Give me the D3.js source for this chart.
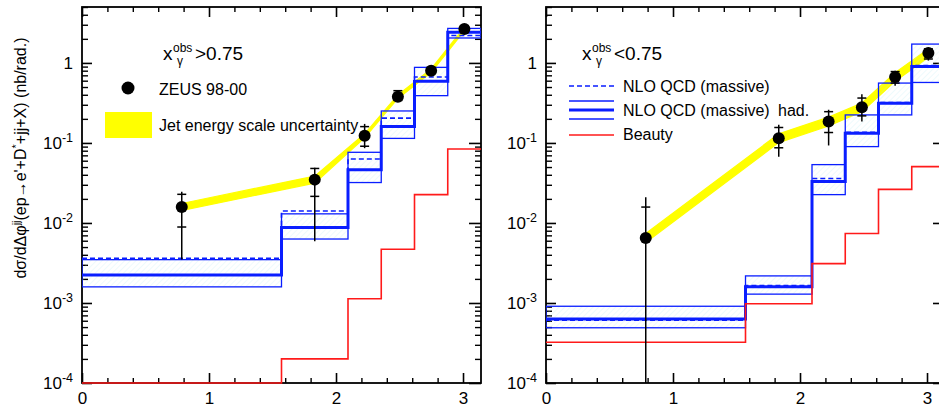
<!DOCTYPE html>
<html>
<head>
<meta charset="utf-8">
<script src="https://cdn.jsdelivr.net/npm/d3@7"></script>
<style>
  html, body { margin: 0; padding: 0; background: #fff; }
  svg { display: block; font-family: "Liberation Sans", Arial, Helvetica, sans-serif; }
</style>
</head>
<body>
<svg id="chart" width="939" height="413"></svg>
<script>
// Bin edges in Δφ^jj (rad)
const binEdges = [0, Math.PI / 2, 2 * Math.PI / 3, 3 * Math.PI / 4, 5 * Math.PI / 6, 11 * Math.PI / 12, Math.PI];

// x_γ^obs > 0.75 : ZEUS 98-00 data
const hiData   = [0.0158, 0.0348, 0.123, 0.379, 0.80, 2.66];
const hiStatUp = [0.0228, 0.048, 0.160, 0.45, 0.86, 2.9];
const hiStatDn = [0.0089, 0.0215, 0.091, 0.34, 0.75, 2.45];
const hiTotUp  = [0.0245, 0.049, 0.173, 0.46, 0.88, 2.95];
const hiTotDn  = [0.0035, 0.0059, 0.086, 0.33, 0.73, 2.4];
const hiJesUp  = [0.0175, 0.0385, 0.130, 0.398, 0.84, 2.79];
const hiJesDn  = [0.0143, 0.0315, 0.116, 0.360, 0.76, 2.53];
// x_γ^obs > 0.75 : NLO QCD predictions and beauty contribution
const hiNlo      = [0.00363, 0.0141, 0.063, 0.204, 0.668, 2.2];
const hiNloHad   = [0.00224, 0.0088, 0.0464, 0.160, 0.59, 2.42];
const hiNloHadUp = [0.00348, 0.0130, 0.0764, 0.251, 0.88, 2.7];
const hiNloHadDn = [0.00159, 0.0063, 0.032, 0.114, 0.39, 2.05];
const hiBeauty   = [0.0001, 0.0002, 0.00113, 0.0047, 0.0226, 0.084];

// x_γ^obs < 0.75 : ZEUS 98-00 data
const loData   = [0.0065, 0.1145, 0.185, 0.279, 0.668, 1.33];
const loStatUp = [0.0158, 0.156, 0.246, 0.364, 0.78, 1.5];
const loStatDn = [0.00005, 0.087, 0.135, 0.218, 0.56, 1.12];
const loTotUp  = [0.021, 0.169, 0.26, 0.407, 0.80, 1.56];
const loTotDn  = [0.00005, 0.067, 0.093, 0.185, 0.52, 1.07];
const loJesUp  = [0.0074, 0.130, 0.210, 0.316, 0.756, 1.5];
const loJesDn  = [0.0057, 0.101, 0.163, 0.246, 0.59, 1.17];
// x_γ^obs < 0.75 : NLO QCD predictions and beauty contribution
const loNlo      = [0.00061, 0.00165, 0.036, 0.136, 0.32, 0.93];
const loNloHad   = [0.00063, 0.00159, 0.033, 0.132, 0.314, 0.90];
const loNloHadUp = [0.00091, 0.00218, 0.0536, 0.224, 0.56, 1.72];
const loNloHadDn = [0.00049, 0.00129, 0.0226, 0.090, 0.224, 0.57];
const loBeauty   = [0.000323, 0.00098, 0.0031, 0.0074, 0.0263, 0.0506];

// Axis ticks
const xMajorTicks = [0, 1, 2, 3];
const xMinorTicks = d3.range(0, 3.15, 0.2).filter(v => Math.abs(v - Math.round(v)) > 1e-6);
const yMajorTicks = [1e-4, 1e-3, 1e-2, 1e-1, 1];
const yTickLabels = ["10|-4", "10|-3", "10|-2", "10|-1", "1"];
const yMinorTicks = [];
[1e-4, 1e-3, 1e-2, 1e-1, 1].forEach(d => { for (let m = 2; m <= 9; m++) if (d * m <= 5) yMinorTicks.push(d * m); });

const BLUE = "#0a1eff";
const RED = "#ff1a1a";
const YELLOW = "#ffff00";

const svg = d3.select("#chart");
const defs = svg.append("defs");
defs.append("pattern")
  .attr("id", "hatch").attr("patternUnits", "userSpaceOnUse")
  .attr("width", 4).attr("height", 4).attr("patternTransform", "rotate(45)")
  .append("line").attr("x1", 0).attr("y1", 0).attr("x2", 0).attr("y2", 4)
  .attr("stroke", "#b4ecf2").attr("stroke-width", 1).attr("stroke-opacity", 0.45);

const plotTop = 7, plotBottom = 383;
const y = d3.scaleLog().domain([1e-4, 5]).range([plotBottom, plotTop]).clamp(true);

const panels = [
  { id: "hi", x0: 82, x1: 481, data: hiData, statUp: hiStatUp, statDn: hiStatDn, totUp: hiTotUp, totDn: hiTotDn,
    jesUp: hiJesUp, jesDn: hiJesDn, nlo: hiNlo, had: hiNloHad, hadUp: hiNloHadUp, hadDn: hiNloHadDn, beauty: hiBeauty },
  { id: "lo", x0: 546, x1: 546 + 399, data: loData, statUp: loStatUp, statDn: loStatDn, totUp: loTotUp, totDn: loTotDn,
    jesUp: loJesUp, jesDn: loJesDn, nlo: loNlo, had: loNloHad, hadUp: loNloHadUp, hadDn: loNloHadDn, beauty: loBeauty }
];

function stepPoints(vals) {
  const pts = vals.map((v, i) => [binEdges[i], v]);
  pts.push([binEdges[binEdges.length - 1], vals[vals.length - 1]]);
  return pts;
}

panels.forEach(p => {
  const x = d3.scaleLinear().domain([0, Math.PI]).range([p.x0, p.x1]);
  const g = svg.append("g");

  defs.append("clipPath").attr("id", "clip-" + p.id)
    .append("rect").attr("x", p.x0).attr("y", plotTop - 1).attr("width", p.x1 - p.x0).attr("height", plotBottom - plotTop + 2);

  // frame
  g.append("rect").attr("x", p.x0).attr("y", plotTop).attr("width", p.x1 - p.x0).attr("height", plotBottom - plotTop)
    .attr("fill", "none").attr("stroke", "#000").attr("stroke-width", 1.8);

  // axes with inward ticks
  const axes = [
    { mk: d3.axisBottom, tr: `translate(0,${plotBottom})`, size: -10, minorSize: -5, minor: xMinorTicks, major: xMajorTicks, labels: true, dir: "x" },
    { mk: d3.axisTop, tr: `translate(0,${plotTop})`, size: -10, minorSize: -5, minor: xMinorTicks, major: xMajorTicks, labels: false, dir: "x" },
    { mk: d3.axisLeft, tr: `translate(${p.x0},0)`, size: -10, minorSize: -6, minor: yMinorTicks, major: yMajorTicks, labels: true, dir: "y" },
    { mk: d3.axisRight, tr: `translate(${p.x1},0)`, size: -12, minorSize: -6, minor: yMinorTicks, major: yMajorTicks, labels: false, dir: "y" }
  ];
  axes.forEach(a => {
    const sc = a.dir === "x" ? x : y;
    const gm = g.append("g").attr("transform", a.tr)
      .call(a.mk(sc).tickValues(a.major).tickSizeInner(a.size).tickSizeOuter(0).tickPadding(9)
        .tickFormat(a.labels ? (a.dir === "x" ? d3.format("d") : ((d, i) => yTickLabels[i])) : () => ""));
    gm.select(".domain").remove();
    gm.selectAll(".tick line").attr("stroke", "#000").attr("stroke-width", 1.6);
    gm.selectAll(".tick text").attr("font-size", 17).attr("fill", "#000")
      .attr("font-family", '"Liberation Sans", Arial, Helvetica, sans-serif');
    if (a.labels && a.dir === "y") {
      gm.selectAll(".tick text").each(function (d, i) {
        const t = d3.select(this);
        const parts = yTickLabels[i].split("|");
        t.text(null);
        t.append("tspan").text(parts[0]);
        if (parts[1]) t.append("tspan").attr("dy", -7).attr("font-size", 12.5).text(parts[1]);
      });
    }
    const gmin = g.append("g").attr("transform", a.tr)
      .call(a.mk(sc).tickValues(a.minor).tickSizeInner(a.minorSize).tickSizeOuter(0).tickFormat(() => ""));
    gmin.select(".domain").remove();
    gmin.selectAll(".tick line").attr("stroke", "#000").attr("stroke-width", 1.4);
  });

  const c = g.append("g").attr("clip-path", `url(#clip-${p.id})`);

  // jet energy scale uncertainty band
  const cx = binEdges.slice(0, -1).map((e, i) => (e + binEdges[i + 1]) / 2);
  c.append("path")
    .datum(cx.map((v, i) => ({ x: v, lo: p.jesDn[i], hi: p.jesUp[i] })))
    .attr("d", d3.area().x(d => x(d.x)).y0(d => y(d.lo)).y1(d => y(d.hi)))
    .attr("fill", YELLOW).attr("stroke", YELLOW).attr("stroke-width", 1.2);

  // NLO hadronised uncertainty boxes
  c.selectAll("rect.band").data(p.hadUp.map((u, i) => ({ i, up: u, dn: p.hadDn[i] }))).join("rect")
    .attr("class", "band")
    .attr("x", d => x(binEdges[d.i])).attr("width", d => x(binEdges[d.i + 1]) - x(binEdges[d.i]))
    .attr("y", d => y(d.up)).attr("height", d => y(d.dn) - y(d.up))
    .attr("fill", "url(#hatch)").attr("stroke", BLUE).attr("stroke-width", 1.3);

  const step = d3.line().x(d => x(d[0])).y(d => y(d[1])).curve(d3.curveStepAfter);
  c.append("path").attr("d", step(stepPoints(p.nlo))).attr("fill", "none")
    .attr("stroke", BLUE).attr("stroke-width", 1.6).attr("stroke-dasharray", "5,3");
  c.append("path").attr("d", step(stepPoints(p.had))).attr("fill", "none")
    .attr("stroke", BLUE).attr("stroke-width", 3);
  c.append("path").attr("d", step(stepPoints(p.beauty))).attr("fill", "none")
    .attr("stroke", RED).attr("stroke-width", 1.6);

  // data error bars: line to total, ticks at statistical ends
  const eb = c.append("g");
  cx.forEach((xv, i) => {
    const px = x(xv);
    eb.append("line").attr("x1", px).attr("x2", px).attr("y1", y(p.totUp[i])).attr("y2", y(p.totDn[i]))
      .attr("stroke", "#000").attr("stroke-width", 1.5);
    [p.statUp[i], p.statDn[i]].forEach(s => {
      if (s >= y.domain()[0]) {
        eb.append("line").attr("x1", px - 4.5).attr("x2", px + 4.5).attr("y1", y(s)).attr("y2", y(s))
          .attr("stroke", "#000").attr("stroke-width", 1.5);
      }
    });
  });
  c.selectAll("circle.pt").data(p.data).join("circle").attr("class", "pt")
    .attr("cx", (d, i) => x(cx[i])).attr("cy", d => y(d)).attr("r", 6).attr("fill", "#000");
});

// y-axis title
const yt = svg.append("text")
  .attr("transform", "translate(26,158) rotate(-90)")
  .attr("text-anchor", "middle").attr("font-size", 16).attr("fill", "#000");
yt.append("tspan").text("dσ/dΔφ");
yt.append("tspan").attr("dy", -6).attr("font-size", 11).text("jj");
yt.append("tspan").attr("dy", 6).text("(ep→e'+D");
yt.append("tspan").attr("dy", -6).attr("font-size", 11).text("*");
yt.append("tspan").attr("dy", 6).text("+jj+X) (nb/rad.)");

// panel headings
function heading(x0, rel) {
  svg.append("text").attr("x", x0).attr("y", 60).attr("font-size", 19).text("x");
  svg.append("text").attr("x", x0 + 10).attr("y", 52).attr("font-size", 12).text("obs");
  svg.append("text").attr("x", x0 + 14).attr("y", 65).attr("font-size", 12).text("γ");
  svg.append("text").attr("x", x0 + 32).attr("y", 60).attr("font-size", 19).text(rel + "0.75");
}
heading(163, ">");
heading(582, "<");

// legend, left panel
svg.append("circle").attr("cx", 128).attr("cy", 88).attr("r", 6.5).attr("fill", "#000");
svg.append("text").attr("x", 159).attr("y", 94.5).attr("font-size", 16).text("ZEUS 98-00");
svg.append("rect").attr("x", 105).attr("y", 112).attr("width", 47).attr("height", 26).attr("fill", YELLOW);
svg.append("text").attr("x", 159).attr("y", 131).attr("font-size", 16).text("Jet energy scale uncertainty");

// legend, right panel
const lx0 = 569, lx1 = 614, tx = 623;
svg.append("line").attr("x1", lx0).attr("x2", lx1).attr("y1", 86).attr("y2", 86)
  .attr("stroke", BLUE).attr("stroke-width", 1.6).attr("stroke-dasharray", "5,3");
svg.append("text").attr("x", tx).attr("y", 92).attr("font-size", 16).text("NLO QCD (massive)");
[[101, 1.3], [110, 3], [119, 1.3]].forEach(([yy, w]) =>
  svg.append("line").attr("x1", lx0).attr("x2", lx1).attr("y1", yy).attr("y2", yy)
    .attr("stroke", BLUE).attr("stroke-width", w));
svg.append("text").attr("x", tx).attr("y", 116).attr("font-size", 16).text("NLO QCD (massive)");
svg.append("text").attr("x", 778).attr("y", 116).attr("font-size", 16).text("had.");
svg.append("line").attr("x1", lx0).attr("x2", lx1).attr("y1", 135).attr("y2", 135)
  .attr("stroke", RED).attr("stroke-width", 1.6);
svg.append("text").attr("x", tx).attr("y", 140).attr("font-size", 16).text("Beauty");
</script>
</body>
</html>
